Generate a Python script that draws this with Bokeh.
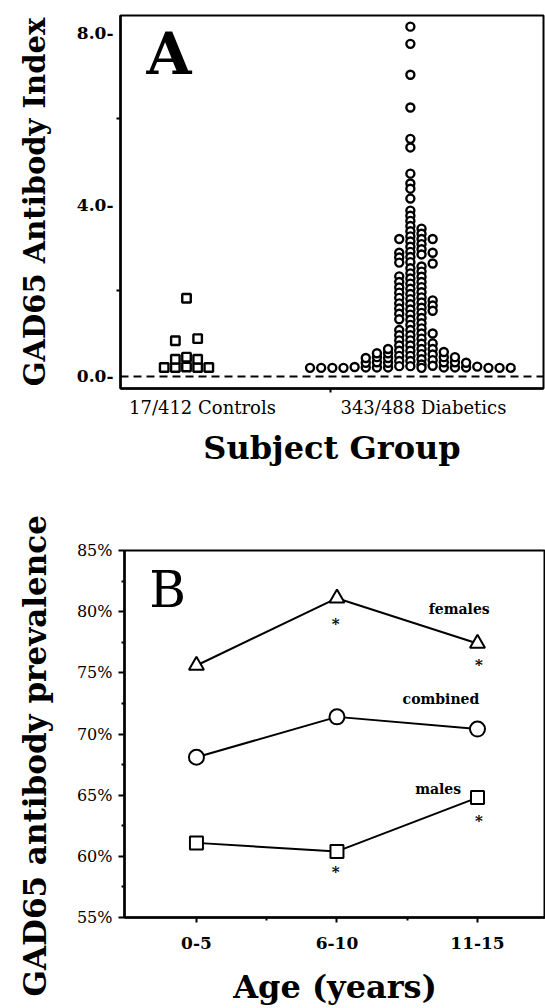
import math
from bokeh.plotting import figure
from bokeh.models import Range1d, FixedTicker, Span, Label, Title
from bokeh.layouts import column, row
from bokeh.embed import file_html
from bokeh.resources import INLINE

SERIF = "DejaVu Serif"

# ---------------- Panel A data ----------------
group_labels = ["17/412 Controls", "343/488 Diabetics"]
# antibody index values, one list per dot column (left to right)
control_columns = [
    [0.21],
    [0.21, 0.40, 0.83],
    [0.22, 0.45, 1.82],
    [0.21, 0.40, 0.88],
    [0.21],
]
diabetic_columns = [
    [0.20],
    [0.20],
    [0.20],
    [0.20],
    [0.22],
    [0.21, 0.32, 0.43],
    [0.21, 0.33, 0.45, 0.54],
    [0.21, 0.32, 0.43, 0.54, 0.64],
    [3.20, 2.88, 2.77, 2.65, 2.33, 2.20, 2.07, 1.95, 1.83, 1.70, 1.58, 1.46, 1.33,
     1.08, 0.96, 0.84, 0.72, 0.60, 0.48, 0.36, 0.24],
    [8.14, 7.74, 7.02, 6.26, 5.53, 5.33, 4.72, 4.49, 4.37, 4.14, 3.86, 3.74, 3.62,
     3.50, 3.38, 3.26, 3.14, 3.02, 2.90, 2.78, 2.66, 2.52, 2.40, 2.28, 2.16, 2.04,
     1.92, 1.80, 1.68, 1.56, 1.44, 1.32, 1.20, 1.08, 0.96, 0.84, 0.72, 0.60, 0.48,
     0.36, 0.24],
    [3.44, 3.32, 3.20, 3.08, 2.96, 2.84, 2.56, 2.44, 2.32, 2.20, 2.08, 1.96, 1.84,
     1.72, 1.60, 1.48, 1.36, 1.24, 1.12, 1.00, 0.88, 0.76, 0.64, 0.52, 0.40, 0.28,
     0.20],
    [3.20, 2.88, 2.63, 1.77, 1.65, 1.53, 1.00, 0.77, 0.64, 0.51, 0.38, 0.25],
    [0.21, 0.33, 0.45, 0.57],
    [0.21, 0.33, 0.45],
    [0.21, 0.32],
    [0.23],
    [0.20],
    [0.20],
    [0.20],
]
y_ticks_a = [0, 4, 8]
y_tick_labels_a = ["0.0-", "4.0-", "8.0-"]
y_minor_a = [2, 6]

# ---------------- Panel B data ----------------
age_groups = ["0-5", "6-10", "11-15"]
females = [75.6, 81.1, 77.4]
combined = [68.1, 71.4, 70.4]
males = [61.1, 60.4, 64.8]
y_ticks_b = [55, 60, 65, 70, 75, 80, 85]
y_tick_labels_b = ["55%", "60%", "65%", "70%", "75%", "80%", "85%"]
# significant points: (series, age index, gap below the point in % units)
stars = [("females", 1, 2.1), ("females", 2, 1.8),
         ("males", 1, 1.65), ("males", 2, 1.95)]

# ---------------- layout constants ----------------
control_center = 5.92
diabetic_center = 26.0
label_pos = [7.35, 27.17]
mid_tick = 18.83


def flatten(cols, center):
    xs, ys = [], []
    n = len(cols)
    for i, col in enumerate(cols):
        off = i - (n - 1) / 2
        for v in col:
            xs.append(center + off)
            ys.append(v)
    return xs, ys


def style_common(p):
    p.xgrid.visible = False
    p.ygrid.visible = False
    p.outline_line_color = "black"
    p.outline_line_width = 2
    p.background_fill_color = "white"
    p.border_fill_color = "white"
    for ax in (p.xaxis[0], p.yaxis[0]):
        ax.axis_line_width = 2.5
        ax.axis_line_color = "black"
        ax.major_tick_line_color = "black"
        ax.minor_tick_line_color = "black"
        ax.major_tick_line_width = 2
        ax.minor_tick_line_width = 2
        ax.major_tick_in = 0
        ax.minor_tick_in = 0
        ax.major_label_text_font = SERIF
        ax.axis_label_text_font = SERIF
        ax.major_label_text_color = "black"
        ax.axis_label_text_color = "black"
        ax.axis_label_text_font_style = "bold"


# ---------------- Panel A ----------------
pa = figure(width=545, height=483, output_backend="svg", toolbar_location=None,
            x_range=Range1d(0, 37.94), y_range=Range1d(-0.28, 8.4),
            min_border_left=120, min_border_right=2, min_border_top=15,
            min_border_bottom=95)
style_common(pa)

ya = pa.yaxis[0]
ya.ticker = FixedTicker(ticks=y_ticks_a, minor_ticks=y_minor_a)
ya.major_label_overrides = dict(zip(y_ticks_a, y_tick_labels_a))
ya.major_tick_out = 0
ya.minor_tick_out = 4
ya.major_label_standoff = 3
ya.major_label_text_font_size = "17px"
ya.major_label_text_font_style = "bold"
ya.axis_label = "GAD65 Antibody Index"
ya.axis_label_text_font_size = "29px"
ya.axis_label_standoff = 22

xa = pa.xaxis[0]
xa.ticker = FixedTicker(ticks=label_pos, minor_ticks=[mid_tick])
xa.major_label_overrides = dict(zip(label_pos, group_labels))
xa.major_tick_out = 0
xa.minor_tick_out = 4
xa.major_label_standoff = 4
xa.major_label_text_font_size = "18px"
xa.axis_label = "Subject Group"
xa.axis_label_text_font_size = "32px"
xa.axis_label_standoff = 8

pa.add_layout(Span(location=0, dimension="width", line_color="black",
                   line_width=2, line_dash="8 5"))

cx, cy = flatten(control_columns, control_center)
dx, dy = flatten(diabetic_columns, diabetic_center)
pa.scatter(cx, cy, marker="square", size=8.5, fill_color="white",
           line_color="black", line_width=2.4)
pa.scatter(dx, dy, marker="circle", size=8, fill_color="white",
           line_color="black", line_width=2.4)

pa.add_layout(Label(x=2.33, y=7.5, text="A", text_font=SERIF,
                    text_font_style="bold", text_font_size="58px",
                    text_color="black", text_baseline="alphabetic",
                    text_align="left"))

# ---------------- Panel B ----------------
STRIP_W = 60
pb = figure(width=545 - STRIP_W, height=525, output_backend="svg",
            toolbar_location=None,
            x_range=Range1d(-0.512, 2.484), y_range=Range1d(55, 85),
            min_border_left=124 - STRIP_W, min_border_right=0,
            min_border_top=67, min_border_bottom=87)
style_common(pb)

yb = pb.yaxis[0]
yb.ticker = FixedTicker(ticks=y_ticks_b,
                        minor_ticks=[t + 2.5 for t in y_ticks_b[:-1]])
yb.major_label_overrides = dict(zip(y_ticks_b, y_tick_labels_b))
yb.major_tick_out = 6
yb.minor_tick_out = 3
yb.major_label_standoff = 6
yb.major_label_text_font_size = "16px"

xb = pb.xaxis[0]
xidx = list(range(len(age_groups)))
xb.ticker = FixedTicker(ticks=xidx, minor_ticks=[0.5, 1.5])
xb.major_label_overrides = dict(zip(xidx, age_groups))
xb.major_tick_out = 5
xb.minor_tick_out = 3
xb.major_label_standoff = 14
xb.major_label_text_font_size = "17px"
xb.major_label_text_font_style = "bold"
xb.axis_label = "Age (years)"
xb.axis_label_text_font_size = "32px"
xb.axis_label_standoff = 16

series = {"females": females, "combined": combined, "males": males}
markers = {"females": ("triangle", 15), "combined": ("circle", 15),
           "males": ("square", 13)}
for name, vals in series.items():
    pb.line(xidx, vals, line_color="black", line_width=2)
    m, s = markers[name]
    pb.scatter(xidx, vals, marker=m, size=s, fill_color="white",
               line_color="black", line_width=2)

name_pos = {"females": (1.87, 80.23), "combined": (1.74, 72.87),
            "males": (1.72, 65.52)}
for name, (lx, ly) in name_pos.items():
    pb.add_layout(Label(x=lx, y=ly, text=name, text_font=SERIF,
                        text_font_style="bold", text_font_size="14px",
                        text_color="black", text_align="center",
                        text_baseline="middle"))

for name, i, gap in stars:
    pb.add_layout(Label(x=i + (0.01 if i == 2 else -0.01),
                        y=series[name][i] - gap, text="*", text_font=SERIF,
                        text_font_style="bold", text_font_size="15px",
                        text_color="black", text_align="center",
                        text_baseline="middle"))

pb.add_layout(Label(x=-0.335, y=81.75, text="B", text_font=SERIF,
                    text_font_size="50px", text_color="black",
                    text_baseline="alphabetic", text_align="left"))

# left strip holding the rotated y title of panel B
pl = figure(width=STRIP_W, height=525, output_backend="svg",
            toolbar_location=None, x_range=Range1d(0, 1),
            y_range=Range1d(0, 1), min_border_left=52, min_border_right=0,
            min_border_top=67, min_border_bottom=87)
pl.axis.visible = False
pl.grid.visible = False
pl.outline_line_color = None
pl.add_layout(Title(text="GAD65 antibody prevalence", align="left",
                    vertical_align="bottom", offset=-79, standoff=0,
                    text_font=SERIF, text_font_style="bold",
                    text_font_size="31px", text_color="black"), "left")

layout = column(pa, row(pl, pb))
open("out.html", "w").write(file_html(layout, INLINE))
